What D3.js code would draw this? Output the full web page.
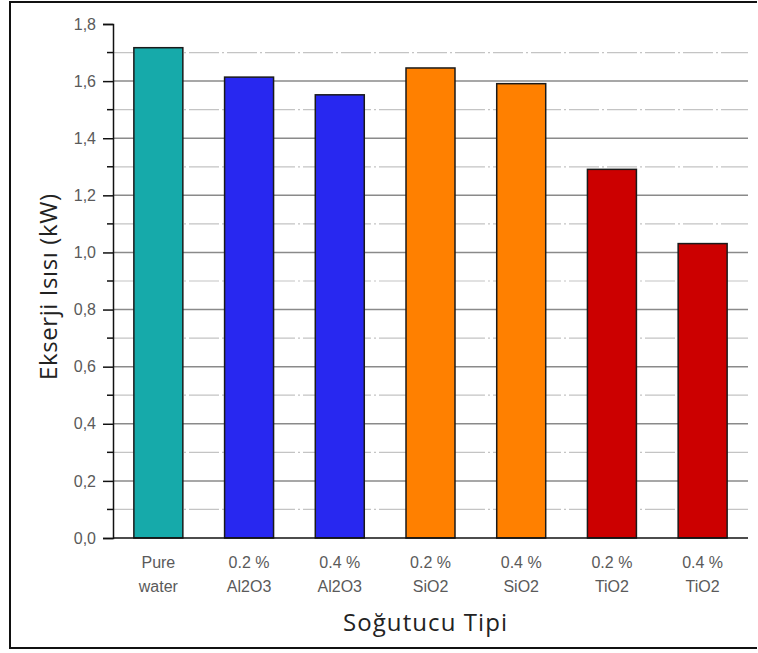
<!DOCTYPE html>
<html lang="tr">
<head>
  <meta charset="UTF-8" />
  <title>Ekserji Isısı</title>
  <script src="https://d3js.org/d3.v7.min.js"></script>
  <style>
    body { margin: 0; background: #fff; }
  </style>
</head>
<body>
  <svg id="chart" width="758" height="653"></svg>

  <script>
    const categories = [
      ["Pure", "water"],
      ["0.2 %", "Al2O3"],
      ["0.4 %", "Al2O3"],
      ["0.2 %", "SiO2"],
      ["0.4 %", "SiO2"],
      ["0.2 %", "TiO2"],
      ["0.4 %", "TiO2"]
    ];
    const values = [1.717, 1.614, 1.552, 1.646, 1.591, 1.291, 1.031];
    const barColors = ["#16aaaa", "#2828f0", "#2828f0", "#ff8000", "#ff8000", "#cc0000", "#cc0000"];
    const yTicks = [0, 0.2, 0.4, 0.6, 0.8, 1.0, 1.2, 1.4, 1.6, 1.8];
    const yMinor = [0.1, 0.3, 0.5, 0.7, 0.9, 1.1, 1.3, 1.5, 1.7];

    const svg = d3.select("#chart");
    const pLeft = 113, pRight = 748, pTop = 24, pBottom = 538;

    // outer frame (right side cut off in the original)
    svg.append("path")
      .attr("d", "M757,2 H10 V648 H757")
      .attr("fill", "none")
      .attr("stroke", "#111")
      .attr("stroke-width", 2);

    const x = d3.scaleBand()
      .domain(d3.range(categories.length))
      .range([pLeft, pRight])
      .paddingInner(0.46)
      .paddingOuter(0.23);

    const y = d3.scaleLinear().domain([0, 1.8]).range([pBottom, pTop]);

    // grid
    svg.append("g").selectAll("line").data(yMinor).join("line")
      .attr("x1", pLeft).attr("x2", pRight)
      .attr("y1", d => y(d)).attr("y2", d => y(d))
      .attr("stroke", "#c4c4c4")
      .attr("stroke-width", 1.2)
      .attr("stroke-dasharray", "30,3,2,3");

    svg.append("g").selectAll("line").data(yTicks.filter(d => d > 0 && d < 1.8)).join("line")
      .attr("x1", pLeft).attr("x2", pRight)
      .attr("y1", d => y(d)).attr("y2", d => y(d))
      .attr("stroke", "#8a8a8a")
      .attr("stroke-width", 1.5);

    // bars
    svg.append("g").selectAll("rect").data(values).join("rect")
      .attr("x", (d, i) => x(i))
      .attr("y", d => y(d))
      .attr("width", x.bandwidth())
      .attr("height", d => pBottom - y(d))
      .attr("fill", (d, i) => barColors[i])
      .attr("stroke", "#1a1a1a")
      .attr("stroke-width", 1.5);

    // y axis
    const yAxis = svg.append("g")
      .attr("transform", `translate(${pLeft},0)`)
      .call(d3.axisLeft(y).tickValues(yTicks).tickSize(10).tickPadding(7)
        .tickFormat(d => d3.format(".1f")(d).replace(".", ",")));
    yAxis.select(".domain").attr("stroke", "#111").attr("stroke-width", 1.5);
    yAxis.selectAll(".tick line").attr("stroke", "#111").attr("stroke-width", 1.5);
    yAxis.selectAll("text")
      .attr("font-family", "Arial, 'Liberation Sans', sans-serif")
      .attr("font-size", 16)
      .attr("fill", "#5a5a5a");

    svg.append("g").selectAll("line").data(yMinor).join("line")
      .attr("x1", pLeft - 6).attr("x2", pLeft)
      .attr("y1", d => y(d)).attr("y2", d => y(d))
      .attr("stroke", "#111").attr("stroke-width", 1.5);

    // x axis line
    svg.append("line")
      .attr("x1", pLeft).attr("x2", pRight)
      .attr("y1", pBottom).attr("y2", pBottom)
      .attr("stroke", "#111").attr("stroke-width", 1.5);

    // x labels
    const xl = svg.append("g").selectAll("text").data(categories).join("text")
      .attr("text-anchor", "middle")
      .attr("font-family", "Arial, 'Liberation Sans', sans-serif")
      .attr("font-size", 16)
      .attr("fill", "#5a5a5a");
    xl.append("tspan").attr("x", (d, i) => x(i) + x.bandwidth() / 2).attr("y", 568).text(d => d[0]);
    xl.append("tspan").attr("x", (d, i) => x(i) + x.bandwidth() / 2).attr("y", 592).text(d => d[1]);

    // titles
    svg.append("text")
      .attr("x", 425).attr("y", 631)
      .attr("text-anchor", "middle")
      .attr("font-family", "'Open Sans', sans-serif")
      .attr("font-size", 24)
      .attr("textLength", 164)
      .attr("fill", "#222")
      .text("Soğutucu Tipi");

    svg.append("text")
      .attr("transform", "translate(57,287) rotate(-90)")
      .attr("text-anchor", "middle")
      .attr("font-family", "'Open Sans', sans-serif")
      .attr("font-size", 24)
      .attr("textLength", 186)
      .attr("fill", "#222")
      .text("Ekserji Isısı (kW)");
  </script>
</body>
</html>
